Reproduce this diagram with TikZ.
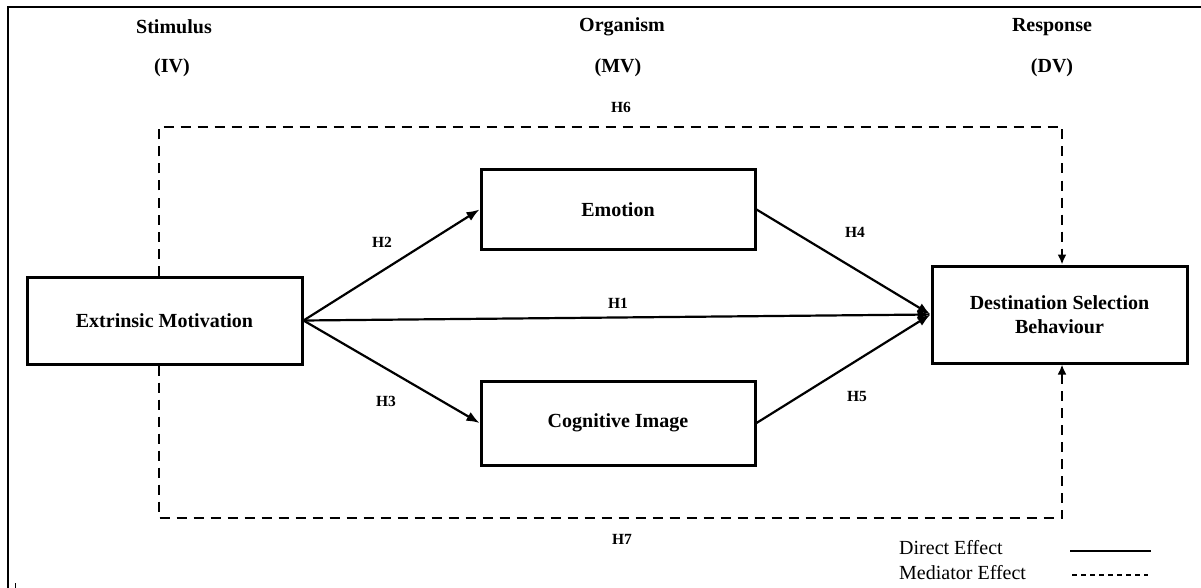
\documentclass[tikz,border=0pt]{standalone}
\usepackage{fontspec}
\setmainfont{Liberation Serif}
\usetikzlibrary{arrows.meta}
\begin{document}
\begin{tikzpicture}[x=1pt,y=-1pt,
  box/.style={draw=black,line width=3pt,fill=white,inner sep=0pt,align=center,
    font=\fontsize{20}{24}\selectfont\bfseries},
  head/.style={inner sep=0pt,font=\fontsize{20}{24}\selectfont\bfseries},
  hyp/.style={inner sep=0pt,font=\fontsize{15.5}{18}\selectfont\bfseries},
  leg/.style={inner sep=0pt,anchor=west,font=\fontsize{20}{24}\selectfont},
  direct/.style={line width=2.2pt,-{Latex[length=13pt,width=10pt]}},
  med/.style={line width=2.6pt,dash pattern=on 10pt off 7pt,-{Latex[length=10pt,width=9pt]}},
  frame/.style={line width=2.2pt}
]
\useasboundingbox (0,0) rectangle (1201,588);
% outer frame
\coordinate (f0) at (8,588);
\coordinate (f1) at (8,7);
\coordinate (f2) at (1201,7);
\draw[frame] (f0) -- (f1) -- (f2);
\coordinate (m0) at (15,583);
\coordinate (m1) at (15,588);
\draw[line width=1pt] (m0) -- (m1);

% headers
\node[head] (stim) at (174,27) {Stimulus};
\node[head] (iv) at (172,68) {(IV)};
\node[head] (org) at (622,27) {Organism};
\node[head] (mv) at (618,68) {(MV)};
\node[head] (resp) at (1052,27) {Response};
\node[head] (dv) at (1052,68) {(DV)};

% boxes
\node[box,minimum width=275pt,minimum height=87pt] (EM) at (164.5,320.5) {Extrinsic Motivation};
\node[box,minimum width=274pt,minimum height=79pt] (EMO) at (618,209.5) {Emotion};
\node[box,minimum width=274pt,minimum height=84pt] (COG) at (618,423) {Cognitive Image};
\node[box,minimum width=255pt,minimum height=97pt] (DSB) at (1059.5,314.5) {Destination Selection\\Behaviour};

% mediator paths
\coordinate (tl) at (159,127);
\coordinate (tr) at (1062,127);
\coordinate (bl) at (159,518);
\coordinate (br) at (1062,518);
\draw[med] (EM.north -| tl) -- (tl) -- (tr) -- (DSB.north -| tr);
\draw[med] (EM.south -| bl) -- (bl) -- (br) -- (DSB.south -| br);

% direct paths
\draw[direct] (EM.east) -- (EMO.west);
\draw[direct] (EM.east) -- (COG.west);
\draw[direct] (EM.east) -- (DSB.west);
\draw[direct] (EMO.east) -- (DSB.west);
\draw[direct] (COG.east) -- (DSB.west);

% hypothesis labels
\node[hyp] (h1) at (618,303) {H1};
\node[hyp] (h2) at (382,242) {H2};
\node[hyp] (h3) at (386,401) {H3};
\node[hyp] (h4) at (855,232) {H4};
\node[hyp] (h5) at (857,396) {H5};
\node[hyp] (h6) at (621,107) {H6};
\node[hyp] (h7) at (622,539) {H7};

% legend
\node[leg] (ld) at (899,548) {Direct Effect};
\node[leg] (lm) at (899,573) {Mediator Effect};
\coordinate (ls0) at (1070,551);
\coordinate (ls1) at (1151,551);
\coordinate (lm0) at (1072,575);
\coordinate (lm1) at (1148,575);
\draw[line width=1.6pt] (ls0) -- (ls1);
\draw[line width=1.3pt,dash pattern=on 5pt off 4pt] (lm0) -- (lm1);
\end{tikzpicture}
\end{document}
